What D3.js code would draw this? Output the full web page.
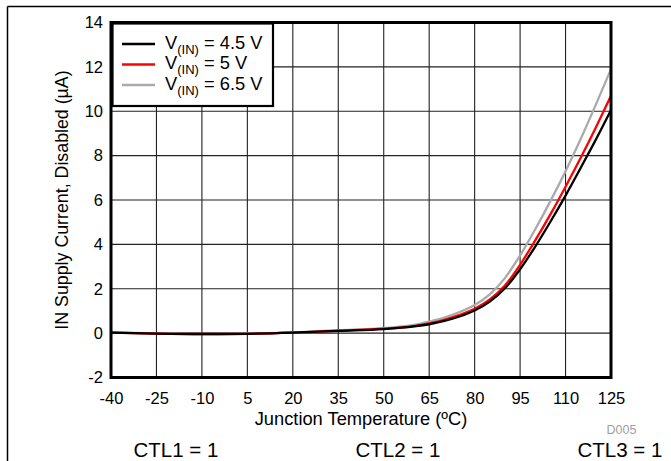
<!DOCTYPE html>
<html><head><meta charset="utf-8">
<script src="https://cdn.jsdelivr.net/npm/d3@7"></script>
<style>body{margin:0;background:#fff}svg{display:block}text{font-family:"Liberation Sans",Arial,sans-serif}</style>
</head><body><svg id="c" width="671" height="461"></svg>
<script>
const temps = [-40,-25,-10,5,20,35,50,60,65,70,75,80,85,90,95,100,105,110,115,120,125];
const v45 = [0.02,-0.02,-0.04,-0.03,0.02,0.10,0.18,0.30,0.40,0.55,0.75,1.02,1.42,2.02,2.88,3.90,5.02,6.20,7.45,8.72,10.05];
const v50 = [0.02,-0.02,-0.04,-0.03,0.02,0.11,0.20,0.32,0.44,0.60,0.82,1.10,1.52,2.15,3.08,4.18,5.35,6.60,7.90,9.27,10.70];
const v65 = [0.03,-0.01,-0.03,-0.02,0.03,0.13,0.23,0.37,0.52,0.70,0.95,1.27,1.75,2.48,3.50,4.68,5.95,7.30,8.75,10.30,11.90];
const xTicks = [-40,-25,-10,5,20,35,50,65,80,95,110,125];
const yTicks = [-2,0,2,4,6,8,10,12,14];
const seriesNames = ["4.5 V","5 V","6.5 V"];
const seriesColors = ["#000000","#ff0000","#aaaaaa"];
const seriesData = [v45, v50, v65];

const svg = d3.select("#c");
const L=111, R=611, T=22.5, B=377.5;
const x = d3.scaleLinear().domain([-40,125]).range([L,R]);
const y = d3.scaleLinear().domain([-2,14]).range([B,T]);
const FF = "Liberation Sans, Arial, sans-serif";

// outer frame lines
svg.append("line").attr("x1",7.5).attr("x2",671).attr("y1",6.5).attr("y2",6.5).attr("stroke","#000").attr("stroke-width",1.5);
svg.append("line").attr("x1",7.5).attr("x2",7.5).attr("y1",6.5).attr("y2",461).attr("stroke","#000").attr("stroke-width",1.5);

// grid
const g = svg.append("g");
g.selectAll(".vx").data(xTicks).enter().append("line")
  .attr("x1",d=>x(d)).attr("x2",d=>x(d)).attr("y1",T).attr("y2",B)
  .attr("stroke","#222").attr("stroke-width",1.1);
g.selectAll(".hy").data(yTicks).enter().append("line")
  .attr("x1",L).attr("x2",R).attr("y1",d=>y(d)).attr("y2",d=>y(d))
  .attr("stroke","#222").attr("stroke-width",1.1);

// axes via d3 axis (labels only)
const xAxis = svg.append("g").attr("transform",`translate(0,${B})`)
  .call(d3.axisBottom(x).tickValues(xTicks).tickSize(0).tickPadding(14.5).tickFormat(d=>d));
xAxis.select(".domain").remove();
xAxis.selectAll("text").attr("font-size",16.5).attr("fill","#000").style("font-family",FF);
const yAxis = svg.append("g").attr("transform",`translate(${L},0)`)
  .call(d3.axisLeft(y).tickValues(yTicks).tickSize(0).tickPadding(8).tickFormat(d=>d));
yAxis.select(".domain").remove();
yAxis.selectAll("text").attr("font-size",16.5).attr("fill","#000").style("font-family",FF);

// lines
const line = d3.line().x((d,i)=>x(temps[i])).y(d=>y(d)).curve(d3.curveMonotoneX);
[2,1,0].forEach(k=>{
  svg.append("path").datum(seriesData[k]).attr("d",line)
    .attr("fill","none").attr("stroke",seriesColors[k]).attr("stroke-width",2.3);
});

// plot border
svg.append("rect").attr("x",L).attr("y",T).attr("width",R-L).attr("height",B-T)
  .attr("fill","none").attr("stroke","#000").attr("stroke-width",3);

// legend
const lg = svg.append("g");
lg.append("rect").attr("x",112.5).attr("y",23.5).attr("width",160.5).attr("height",82.5)
  .attr("fill","#fff").attr("stroke","#000").attr("stroke-width",2.2);
seriesNames.forEach((n,i)=>{
  const yy = 44 + i*20.5;
  lg.append("line").attr("x1",122).attr("x2",155).attr("y1",yy).attr("y2",yy)
    .attr("stroke",seriesColors[i]).attr("stroke-width",2.3);
  const t = lg.append("text").attr("x",165).attr("y",yy+4.8).attr("font-size",18.3).attr("fill","#000");
  t.append("tspan").text("V");
  t.append("tspan").attr("font-size",13).attr("dy",5).text("(IN)");
  t.append("tspan").attr("dy",-5).text(" = " + n);
});

// axis titles
svg.append("text").attr("x",(L+R)/2).attr("y",424.5).attr("text-anchor","middle")
  .attr("font-size",18.3).text("Junction Temperature (ºC)");
svg.append("text").attr("transform",`translate(68,${(T+B)/2}) rotate(-90)`).attr("text-anchor","middle")
  .attr("font-size",17.8).text("IN Supply Current, Disabled (µA)");
svg.append("text").attr("x",621.5).attr("y",433.5).attr("text-anchor","middle")
  .attr("font-size",12.5).attr("fill","#a0a0a0").text("D005");

// CTL labels
const ctl = ["CTL1 = 1","CTL2 = 1","CTL3 = 1"];
const ctlX = [176,398,620];
ctl.forEach((c,i)=>svg.append("text").attr("x",ctlX[i]).attr("y",457.3).attr("text-anchor","middle")
  .attr("font-size",20.5).text(c));
</script></body></html>
